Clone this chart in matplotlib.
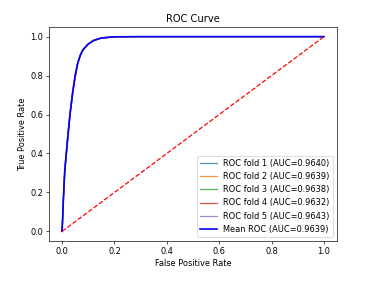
import matplotlib
matplotlib.use("Agg")
import matplotlib.pyplot as plt

fpr_grid = [0.0, 0.005, 0.01, 0.02, 0.03, 0.04, 0.05, 0.06, 0.07, 0.08, 0.10, 0.12, 0.15, 0.20, 0.30, 1.0]
tpr_fold1 = [0.0, 0.17, 0.31, 0.47, 0.60, 0.71, 0.80, 0.865, 0.905, 0.933, 0.962, 0.980, 0.993, 0.999, 1.0, 1.0]
tpr_fold2 = [0.0, 0.17, 0.31, 0.46, 0.60, 0.71, 0.80, 0.868, 0.907, 0.934, 0.963, 0.980, 0.993, 0.999, 1.0, 1.0]
tpr_fold3 = [0.0, 0.16, 0.30, 0.46, 0.60, 0.71, 0.80, 0.866, 0.906, 0.933, 0.962, 0.980, 0.993, 0.999, 1.0, 1.0]
tpr_fold4 = [0.0, 0.16, 0.30, 0.45, 0.59, 0.70, 0.79, 0.862, 0.903, 0.931, 0.961, 0.979, 0.992, 0.999, 1.0, 1.0]
tpr_fold5 = [0.0, 0.18, 0.32, 0.47, 0.61, 0.72, 0.81, 0.870, 0.908, 0.935, 0.964, 0.981, 0.993, 0.999, 1.0, 1.0]
tpr_mean = [0.0, 0.17, 0.31, 0.46, 0.60, 0.71, 0.80, 0.866, 0.906, 0.933, 0.962, 0.980, 0.993, 0.999, 1.0, 1.0]
fold_aucs = [0.9640, 0.9639, 0.9638, 0.9632, 0.9643]
mean_auc = 0.9639

fig = plt.figure(figsize=(6.4, 4.817), dpi=59.375)
ax = fig.add_axes([0.129, 0.157, 0.758, 0.749])

folds = [tpr_fold1, tpr_fold2, tpr_fold3, tpr_fold4, tpr_fold5]
for i, (t, a) in enumerate(zip(folds, fold_aucs)):
    ax.plot(fpr_grid, t, lw=1.5, alpha=0.8, label=f"ROC fold {i+1} (AUC={a:.4f})")
ax.plot(fpr_grid, tpr_mean, color="b", lw=2, label=f"Mean ROC (AUC={mean_auc:.4f})")
ax.plot([0, 1], [0, 1], "r--")
ax.set_xlabel("False Positive Rate")
ax.set_ylabel("True Positive Rate")
ax.set_title("ROC Curve")
ax.legend(loc="lower right")
fig.savefig("out.png", dpi=59.375)
